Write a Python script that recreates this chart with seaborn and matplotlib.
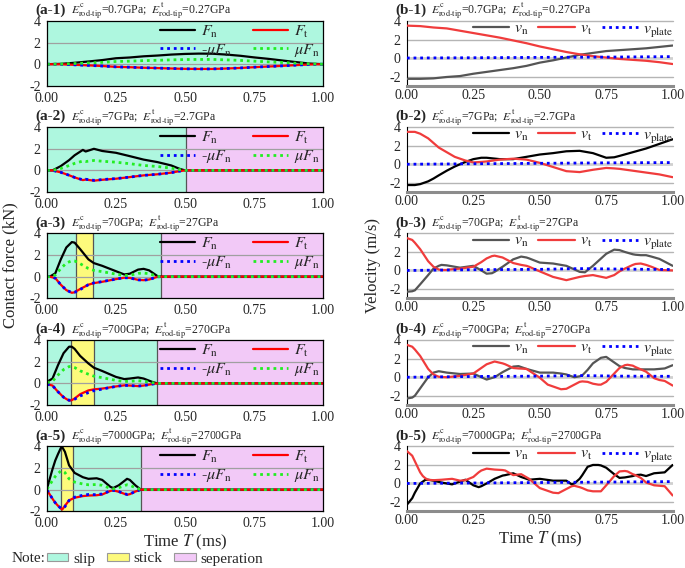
import matplotlib
matplotlib.use("Agg")
import matplotlib.pyplot as plt
import seaborn as sns
from matplotlib.patches import Patch

sns.set_theme(style="white")
plt.rcParams["font.family"] = ["Liberation Serif", "DejaVu Serif"]
plt.rcParams["mathtext.fontset"] = "stix"

# ---------------- data ----------------
tags_a = ["(a-1)", "(a-2)", "(a-3)", "(a-4)", "(a-5)"]
tags_b = ["(b-1)", "(b-2)", "(b-3)", "(b-4)", "(b-5)"]
e_c = ["0.7", "7", "70", "700", "7000"]
e_t = ["0.27", "2.7", "27", "270", "2700"]

x_ticks = [0.0, 0.25, 0.5, 0.75, 1.0]
x_ticklabels = ["0.00", "0.25", "0.50", "0.75", "1.00"]
y_ticks = [-2, 0, 2, 4]
y_ticklabels = ["-2", "0", "2", "4"]

# contact forces (kN)
t_a1 = [0, 0.05, 0.1, 0.15, 0.2, 0.25, 0.3, 0.35, 0.4, 0.45, 0.5,
        0.55, 0.6, 0.65, 0.7, 0.75, 0.8, 0.85, 0.9, 0.95, 1.0]
fn_a1 = [0, 0.03, 0.13, 0.25, 0.38, 0.55, 0.62, 0.73, 0.8, 0.89, 0.95,
         0.98, 0.97, 0.89, 0.78, 0.63, 0.5, 0.35, 0.2, 0.06, 0]
mufn_a1 = [0, 0.01, 0.06, 0.11, 0.17, 0.25, 0.28, 0.33, 0.36, 0.4, 0.43,
           0.44, 0.44, 0.4, 0.35, 0.28, 0.22, 0.16, 0.09, 0.03, 0]
ft_a1 = [0, -0.01, -0.06, -0.11, -0.17, -0.25, -0.28, -0.33, -0.36, -0.4, -0.43,
         -0.44, -0.44, -0.4, -0.35, -0.28, -0.22, -0.16, -0.09, -0.03, 0]

t_a2 = [0, 0.02, 0.05, 0.08, 0.1, 0.13, 0.14, 0.17, 0.2, 0.25, 0.3, 0.35,
        0.4, 0.45, 0.48, 0.5, 1.0]
fn_a2 = [0, 0, 0.4, 0.95, 1.4, 1.9, 1.75, 2.0, 1.8, 1.63, 1.32, 1.0,
         0.77, 0.46, 0.15, 0, 0]
mufn_a2 = [0, 0, 0.18, 0.45, 0.65, 0.87, 0.82, 0.92, 0.85, 0.76, 0.62, 0.46,
           0.36, 0.21, 0.07, 0, 0]
ft_a2 = [0, 0, -0.18, -0.45, -0.65, -0.9, -0.85, -0.95, -0.87, -0.77, -0.62, -0.46,
         -0.36, -0.21, -0.07, 0, 0]

t_a3 = [0, 0.01, 0.03, 0.05, 0.07, 0.09, 0.1, 0.12, 0.15, 0.17, 0.2, 0.25,
        0.28, 0.3, 0.33, 0.35, 0.37, 0.4, 0.42, 1.0]
fn_a3 = [0, 0, 0.3, 1.6, 2.7, 3.2, 3.15, 2.55, 1.6, 1.25, 1.0, 0.5,
         0.2, 0.27, 0.65, 0.72, 0.58, 0.05, 0, 0]
mufn_a3 = [0, 0, 0.14, 0.75, 1.25, 1.48, 1.45, 1.2, 0.75, 0.58, 0.46, 0.23,
           0.1, 0.12, 0.3, 0.33, 0.27, 0.02, 0, 0]
ft_a3 = [0, 0, -0.14, -0.75, -1.25, -1.5, -1.45, -1.15, -0.75, -0.6, -0.48, -0.23,
         -0.1, -0.12, -0.3, -0.33, -0.27, -0.02, 0, 0]

t_a4 = [0, 0.02, 0.04, 0.06, 0.08, 0.09, 0.1, 0.12, 0.15, 0.17, 0.2, 0.25,
        0.28, 0.3, 0.33, 0.35, 0.38, 0.4, 1.0]
fn_a4 = [0.15, 0.45, 1.7, 2.8, 3.4, 3.4, 3.2, 2.55, 1.85, 1.45, 1.15, 0.6,
         0.4, 0.45, 0.55, 0.45, 0.15, 0, 0]
mufn_a4 = [0.07, 0.2, 0.78, 1.28, 1.56, 1.56, 1.47, 1.17, 0.85, 0.67, 0.53, 0.28,
           0.18, 0.2, 0.25, 0.2, 0.07, 0, 0]
ft_a4 = [-0.07, -0.2, -0.78, -1.28, -1.6, -1.55, -1.4, -1.0, -0.65, -0.55, -0.48, -0.28,
         -0.18, -0.2, -0.25, -0.2, -0.07, 0, 0]

t_a5 = [0, 0.01, 0.02, 0.03, 0.04, 0.05, 0.055, 0.065, 0.08, 0.1, 0.13, 0.15,
        0.18, 0.2, 0.23, 0.24, 0.26, 0.29, 0.3, 0.32, 0.34, 1.0]
fn_a5 = [0.1, 1.0, 1.9, 2.7, 3.3, 3.85, 3.95, 3.5, 2.25, 1.55, 1.15, 1.0,
         1.05, 0.9, 0.25, 0.15, 0.4, 1.0, 0.9, 0.4, 0, 0]
mufn_a5 = [0.05, 0.45, 0.85, 1.22, 1.5, 1.72, 1.75, 1.58, 1.0, 0.7, 0.52, 0.45,
           0.47, 0.4, 0.11, 0.07, 0.18, 0.45, 0.4, 0.18, 0, 0]
ft_a5 = [-0.05, -0.45, -0.85, -1.22, -1.5, -1.75, -1.85, -1.5, -1.0, -0.75, -0.6, -0.55,
         -0.52, -0.45, -0.12, -0.07, -0.2, -0.48, -0.42, -0.18, 0, 0]

# contact stages (start, end, kind)
stages_a1 = [(0, 1.0, "slip")]
stages_a2 = [(0, 0.504, "slip"), (0.504, 1.0, "sep")]
stages_a3 = [(0, 0.106, "slip"), (0.106, 0.165, "stick"), (0.165, 0.414, "slip"), (0.414, 1.0, "sep")]
stages_a4 = [(0, 0.088, "slip"), (0.088, 0.169, "stick"), (0.169, 0.399, "slip"), (0.399, 1.0, "sep")]
stages_a5 = [(0, 0.052, "slip"), (0.052, 0.094, "stick"), (0.094, 0.339, "slip"), (0.339, 1.0, "sep")]

# velocities (m/s)
t_b1 = [0, 0.05, 0.1, 0.15, 0.2, 0.25, 0.3, 0.35, 0.4, 0.45, 0.5,
        0.55, 0.6, 0.65, 0.7, 0.75, 0.8, 0.85, 0.9, 0.95, 1.0]
vn_b1 = [-2.25, -2.25, -2.2, -2.05, -1.95, -1.7, -1.5, -1.3, -1.1, -0.85, -0.5,
         -0.25, 0.05, 0.35, 0.55, 0.75, 0.85, 0.95, 1.05, 1.2, 1.35]
vt_b1 = [3.5, 3.45, 3.3, 3.2, 2.95, 2.7, 2.45, 2.2, 1.9, 1.6, 1.25,
         0.95, 0.65, 0.4, 0.2, 0.05, -0.1, -0.2, -0.3, -0.45, -0.65]
tp_b1 = [0, 0.25, 0.5, 0.75, 1.0]
vp_b1 = [0, 0.03, 0.07, 0.1, 0.15]

t_b2 = [0, 0.03, 0.05, 0.08, 0.1, 0.12, 0.15, 0.18, 0.2, 0.22, 0.25, 0.28, 0.3,
        0.35, 0.4, 0.45, 0.5, 0.55, 0.6, 0.65, 0.7, 0.75, 0.78, 0.8, 0.85, 0.9, 0.95, 1.0]
vn_b2 = [-2.25, -2.25, -2.15, -1.85, -1.55, -1.2, -0.7, -0.25, 0.0, 0.25, 0.55, 0.7, 0.7,
         0.55, 0.55, 0.8, 1.05, 1.2, 1.4, 1.45, 1.2, 0.7, 0.75, 0.9, 1.3, 1.7, 2.2, 2.7]
vt_b2 = [3.5, 3.5, 3.3, 2.8, 2.3, 1.8, 1.3, 0.8, 0.6, 0.4, 0.2, 0.25, 0.3,
         0.5, 0.6, 0.5, 0.15, -0.3, -0.75, -0.85, -0.6, -0.4, -0.45, -0.5, -0.7, -0.9, -1.1, -1.4]
tp_b2 = [0, 0.25, 0.5, 0.75, 1.0]
vp_b2 = [0, 0.05, 0.1, 0.15, 0.18]

t_b3 = [0, 0.02, 0.03, 0.05, 0.08, 0.1, 0.12, 0.13, 0.15, 0.16, 0.2, 0.25, 0.28, 0.3, 0.32,
        0.33, 0.36, 0.4, 0.43, 0.45, 0.46, 0.5, 0.55, 0.6, 0.65, 0.67, 0.7, 0.75, 0.78,
        0.8, 0.82, 0.85, 0.86, 0.88, 0.9, 0.92, 0.95, 1.0]
vn_b3 = [-2.3, -2.25, -2.15, -1.5, -0.5, 0.2, 0.5, 0.6, 0.55, 0.5, 0.3, 0.5, 0.0, -0.35, -0.3,
         -0.15, 0.4, 1.2, 1.5, 1.4, 1.3, 0.85, 0.75, 0.5, -0.15, -0.2, 0.5, 1.8, 2.25,
         2.2, 2.0, 1.75, 1.7, 1.65, 1.65, 1.5, 1.25, 0.5]
vt_b3 = [3.5, 3.3, 3.0, 2.3, 1.0, 0.4, 0.1, 0.05, 0.05, 0.1, 0.2, 0.4, 0.9, 1.3, 1.55,
         1.6, 1.4, 0.8, 0.6, 0.5, 0.4, -0.1, -0.7, -1.05, -0.7, -0.6, -0.5, -0.8, -0.5,
         -0.1, 0.2, 0.6, 0.7, 0.75, 0.6, 0.4, 0.05, 0.0]
tp_b3 = [0, 0.25, 0.5, 0.65, 0.8, 1.0]
vp_b3 = [0, 0.08, 0.12, 0.2, 0.15, 0.1]

t_b4 = [0, 0.02, 0.03, 0.05, 0.08, 0.1, 0.12, 0.15, 0.2, 0.25, 0.28, 0.3, 0.33, 0.36,
        0.37, 0.4, 0.42, 0.45, 0.5, 0.53, 0.55, 0.58, 0.6, 0.63, 0.65, 0.66, 0.68, 0.7,
        0.72, 0.73, 0.75, 0.78, 0.8, 0.82, 0.83, 0.85, 0.86, 0.9, 0.93, 0.95, 0.97, 1.0]
vn_b4 = [-2.3, -2.2, -2.0, -1.2, 0.0, 0.5, 0.65, 0.5, 0.35, 0.4, 0.0, -0.25, 0.0, 0.55,
         0.7, 1.15, 1.2, 0.9, 0.5, 0.5, 0.5, 0.4, 0.3, 0.0, 0.1, 0.2, 0.8, 1.5,
         1.9, 2.1, 2.2, 1.6, 1.2, 1.0, 0.95, 0.85, 0.85, 0.85, 0.85, 0.9, 0.95, 1.3]
vt_b4 = [3.5, 3.3, 3.0, 2.3, 0.9, 0.3, 0.05, 0.0, 0.15, 0.4, 1.0, 1.4, 1.7, 1.5,
         1.4, 1.0, 0.95, 0.9, -0.05, -0.8, -1.0, -1.3, -1.25, -0.8, -0.5, -0.45, -0.5, -0.7,
         -0.8, -0.8, -0.5, 0.4, 1.0, 1.3, 1.35, 1.25, 1.1, 0.6, -0.1, -0.3, -0.4, -0.9]
tp_b4 = [0, 0.25, 0.5, 0.65, 0.8, 1.0]
vp_b4 = [0, 0.08, 0.12, 0.18, 0.12, 0.1]

t_b5 = [0, 0.02, 0.03, 0.04, 0.05, 0.06, 0.07, 0.08, 0.1, 0.13, 0.15, 0.17, 0.2, 0.22,
        0.25, 0.27, 0.28, 0.3, 0.33, 0.36, 0.37, 0.4, 0.43, 0.46, 0.5, 0.55, 0.57, 0.6,
        0.62, 0.63, 0.65, 0.66, 0.68, 0.7, 0.72, 0.73, 0.75, 0.78, 0.8, 0.82, 0.83, 0.85,
        0.86, 0.88, 0.9, 0.93, 0.97, 1.0]
vn_b5 = [-2.3, -1.6, -1.0, -0.5, 0.0, 0.2, 0.4, 0.4, 0.3, 0.1, 0.0, -0.1, 0.2, 0.4,
         -0.2, -0.4, -0.3, 0.0, 0.5, 0.85, 0.9, 1.1, 0.7, 0.4, 0.5, 0.3, 0.3, 0.3,
         -0.1, 0.0, 0.5, 0.9, 1.8, 2.0, 2.0, 1.95, 1.7, 1.0, 0.6, 0.65, 0.7, 0.8,
         0.9, 0.95, 0.8, 1.1, 1.2, 2.0]
vt_b5 = [3.5, 3.0, 2.4, 1.8, 1.2, 0.8, 0.55, 0.4, 0.35, 0.4, 0.45, 0.5, 0.3, 0.35,
         0.7, 1.2, 1.4, 1.6, 1.5, 1.45, 1.4, 0.9, 1.0, 0.5, -0.5, -1.0, -1.05, -0.6,
         -0.3, -0.25, -0.4, -0.5, -0.75, -0.85, -0.85, -0.85, -0.2, 0.8, 1.3, 1.35, 1.3, 1.0,
         0.9, 0.6, 0.1, -0.2, -0.3, -1.3]
tp_b5 = [0, 0.25, 0.5, 0.75, 1.0]
vp_b5 = [0, 0.05, 0.1, 0.15, 0.2]

force_panels = [
    (t_a1, fn_a1, ft_a1, mufn_a1, stages_a1),
    (t_a2, fn_a2, ft_a2, mufn_a2, stages_a2),
    (t_a3, fn_a3, ft_a3, mufn_a3, stages_a3),
    (t_a4, fn_a4, ft_a4, mufn_a4, stages_a4),
    (t_a5, fn_a5, ft_a5, mufn_a5, stages_a5),
]
vel_panels = [
    (t_b1, vn_b1, vt_b1, tp_b1, vp_b1),
    (t_b2, vn_b2, vt_b2, tp_b2, vp_b2),
    (t_b3, vn_b3, vt_b3, tp_b3, vp_b3),
    (t_b4, vn_b4, vt_b4, tp_b4, vp_b4),
    (t_b5, vn_b5, vt_b5, tp_b5, vp_b5),
]
vn_colors = ["#555555", "#000000", "#555555", "#555555", "#000000"]

# ---------------- styling ----------------
STAGE_COLORS = {"slip": "#aef7df", "stick": "#fdfa7c", "sep": "#f2c9f7"}
STAGE_NAMES = {"slip": "slip", "stick": "stick", "sep": "seperation"}
DOT = (0, (1.0, 1.4))
row_bottoms = [0.849, 0.662, 0.475, 0.287, 0.100]
row_h = 0.114


def add_title(ax, tag, ec, et):
    ax.annotate(tag, xy=(0, 1), xycoords="axes fraction", xytext=(-8.5, 5),
                textcoords="offset points", fontsize=11, fontweight="bold",
                ha="left", va="baseline")
    txt = (r"$E^{\mathrm{c}}_{\mathrm{rod\text{-}tip}}$=" + ec + "GPa;  "
           + r"$E^{\mathrm{t}}_{\mathrm{rod\text{-}tip}}$=" + et + "GPa")
    ax.annotate(txt, xy=(0, 1), xycoords="axes fraction", xytext=(17.5, 5.5),
                textcoords="offset points", fontsize=8.5, ha="left", va="baseline")


def style_x(ax):
    ax.set_xlim(0, 1)
    ax.set_xticks(x_ticks)
    ax.set_xticklabels(x_ticklabels)
    ax.set_yticks(y_ticks)
    ax.set_yticklabels(y_ticklabels)
    ax.tick_params(axis="both", labelsize=10, pad=2)


fig = plt.figure(figsize=(6.85, 5.68), dpi=100)

for i, (t, fn, ft, mufn, stages) in enumerate(force_panels):
    ax = fig.add_axes([0.0686, row_bottoms[i], 0.403, row_h])
    for s0, s1, kind in stages:
        ax.axvspan(s0, s1, color=STAGE_COLORS[kind], lw=0, zorder=0)
        if s0 > 0:
            ax.axvline(s0, color="#555555", lw=0.9, zorder=1)
    ax.axhline(2, color="#a0a0a0", lw=0.9, zorder=1)
    ax.axhline(0, color="#a0a0a0", lw=0.9, zorder=1)
    sns.lineplot(x=t, y=fn, ax=ax, color="black", lw=1.6, sort=False, label=r"$F_{\mathrm{n}}$", zorder=3)
    sns.lineplot(x=t, y=ft, ax=ax, color="#ff0000", lw=1.6, sort=False, label=r"$F_{\mathrm{t}}$", zorder=3)
    sns.lineplot(x=t, y=[-v for v in mufn], ax=ax, color="#0000ff", lw=2, linestyle=DOT,
                 sort=False, label=r"-$\mu F_{\mathrm{n}}$", zorder=4)
    sns.lineplot(x=t, y=mufn, ax=ax, color="#22ee22", lw=2, linestyle=DOT,
                 sort=False, label=r"$\mu F_{\mathrm{n}}$", zorder=4)
    h, l = ax.get_legend_handles_labels()
    order = [0, 2, 1, 3]
    ax.legend([h[k] for k in order], [l[k] for k in order], loc="upper right", ncol=2,
              frameon=False, fontsize=11.5, handlelength=2.2, handletextpad=0.4,
              columnspacing=1.3, labelspacing=0.15, borderaxespad=0.05, borderpad=0.1)
    ax.set_ylim(-2, 4)
    style_x(ax)
    ax.tick_params(axis="both", direction="out", length=2.5, width=0.8, color="black")
    for sp in ax.spines.values():
        sp.set_color("black")
        sp.set_linewidth(0.9)
        sp.set_zorder(5)
    ax.set_ylabel("")
    add_title(ax, tags_a[i], e_c[i], e_t[i])
    if i == 4:
        ax.set_xlabel(r"Time $T$ (ms)", fontsize=12, labelpad=2)

for i, (t, vn, vt, tp, vp) in enumerate(vel_panels):
    ax = fig.add_axes([0.594, row_bottoms[i], 0.388, row_h])
    for yv in (-2, 2, 4):
        ax.axhline(yv, color="#b5b5b5", lw=1.0, zorder=1, clip_on=False)
    ax.axhline(0, color="#d0d0d0", lw=2.0, zorder=1)
    sns.lineplot(x=t, y=vn, ax=ax, color=vn_colors[i], lw=1.6, sort=False, label=r"$v_{\mathrm{n}}$", zorder=3)
    sns.lineplot(x=t, y=vt, ax=ax, color="#f03c3c", lw=1.6, sort=False, label=r"$v_{\mathrm{t}}$", zorder=3)
    sns.lineplot(x=tp, y=vp, ax=ax, color="#0000ff", lw=2, linestyle=DOT, sort=False,
                 label=r"$v_{\mathrm{plate}}$", zorder=4)
    ax.legend(loc="upper right", ncol=3, frameon=False, fontsize=11.5, handlelength=2.3,
              handletextpad=0.3, columnspacing=0.6, borderaxespad=0.0, borderpad=0.1,
              bbox_to_anchor=(1.01, 1.03))
    ax.set_ylim(-3, 4)
    style_x(ax)
    ax.tick_params(axis="y", direction="out", length=2.5, width=0.8, color="black")
    ax.tick_params(axis="x", direction="in", length=3, width=0.8, color="#555555")
    for side in ("top", "right"):
        ax.spines[side].set_visible(False)
    ax.spines["left"].set_color("black")
    ax.spines["left"].set_linewidth(0.8)
    ax.spines["bottom"].set_color("#8c8c8c")
    ax.spines["bottom"].set_linewidth(2.2)
    ax.set_ylabel("")
    add_title(ax, tags_b[i], e_c[i], e_t[i])
    if i == 4:
        ax.set_xlabel(r"Time $T$ (ms)", fontsize=12, labelpad=2)

fig.text(10 / 685, 0.533, "Contact force (kN)", rotation=90, ha="center", va="center", fontsize=12)
fig.text(373 / 685, 0.533, "Velocity (m/s)", rotation=90, ha="center", va="center", fontsize=12)

fig.text(12 / 685, 1 - 559 / 568, "Note:", ha="left", va="center", fontsize=11)
note_handles = [Patch(facecolor=STAGE_COLORS[k], edgecolor="#999999", lw=0.8) for k in ("slip", "stick", "sep")]
note_labels = [STAGE_NAMES[k] for k in ("slip", "stick", "sep")]
fig.legend(note_handles, note_labels, loc="center left", bbox_to_anchor=(47 / 685, 1 - 559 / 568),
           ncol=3, frameon=False, fontsize=11, handlelength=1.4, handleheight=0.5,
           handletextpad=0.3, columnspacing=0.8, borderpad=0, borderaxespad=0)

fig.savefig("out.png", dpi=100)
